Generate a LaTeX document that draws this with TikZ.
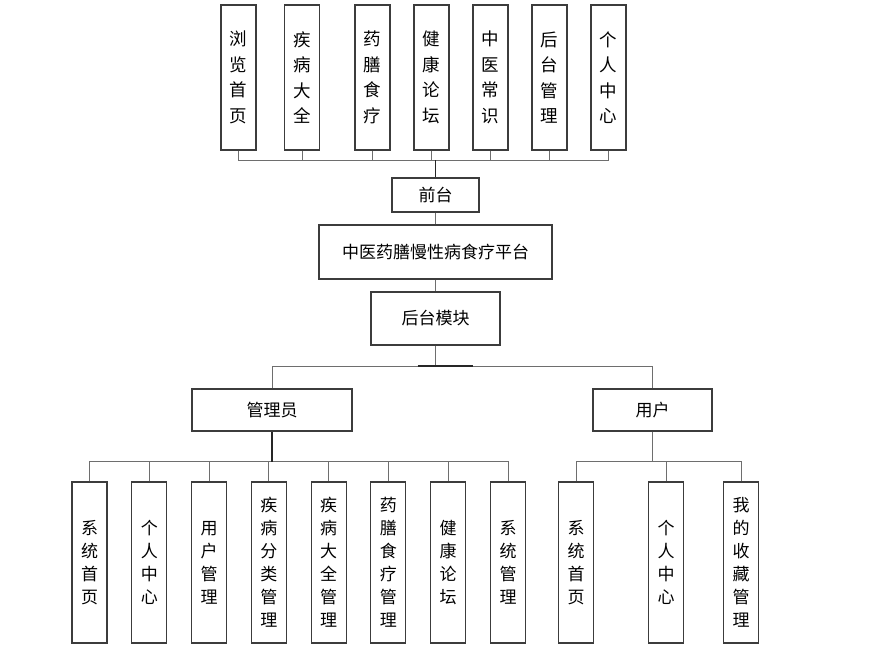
\documentclass[tikz,border=0pt]{standalone}
\usepackage{fontspec}
\usepackage{tikz}
\usetikzlibrary{positioning,calc}
\newfontfamily\cjk{Noto Sans CJK SC}
\definecolor{BoxLine}{RGB}{60,60,60}
\definecolor{LinkGray}{RGB}{110,110,110}
\tikzset{
  mod/.style={draw=BoxLine,fill=white,line width=1.1pt,inner sep=0pt,
    font=\cjk\fontsize{17}{20}\selectfont},
  leaf/.style={mod,minimum width=35pt,align=center},
  topleaf/.style={leaf,minimum height=145pt,font=\cjk\fontsize{17.5}{25.5}\selectfont},
  lowleaf/.style={leaf,minimum height=161pt,font=\cjk\fontsize{17}{23}\selectfont},
  link/.style={draw=LinkGray,line width=1pt},
  trunk/.style={draw=black!85,line width=1.6pt},
}

\begin{document}
\begin{tikzpicture}[x=1pt,y=-1pt]
\useasboundingbox (0,0) rectangle (880,653);
% front end
\node[topleaf] (t1) at (238.5,77.5) {浏\\览\\首\\页};
\node[topleaf] (t2) at (302,77.5) {疾\\病\\大\\全};
\node[topleaf] (t3) at (372.5,77.5) {药\\膳\\食\\疗};
\node[topleaf] (t4) at (431.5,77.5) {健\\康\\论\\坛};
\node[topleaf] (t5) at (490.5,77.5) {中\\医\\常\\识};
\node[topleaf] (t6) at (549.5,77.5) {后\\台\\管\\理};
\node[topleaf] (t7) at (608.5,77.5) {个\\人\\中\\心};
\node[mod,minimum width=87pt,minimum height=34pt] (qt) at (435.5,195) {前台};
\node[mod,minimum width=233pt,minimum height=54pt] (pt) at (435.5,252) {中医药膳慢性病食疗平台};
\node[mod,minimum width=129pt,minimum height=53pt] (ht) at (435.5,318.5) {后台模块};
\node[mod,minimum width=160pt,minimum height=42pt] (adm) at (272,410) {管理员};
\node[mod,minimum width=119pt,minimum height=42pt] (usr) at (652.5,410) {用户};
% admin leaves
\node[lowleaf] (a1) at (89.5,562.5) {系\\统\\首\\页};
\node[lowleaf] (a2) at (149.3,562.5) {个\\人\\中\\心};
\node[lowleaf] (a3) at (209,562.5) {用\\户\\管\\理};
\node[lowleaf] (a4) at (268.8,562.5) {疾\\病\\分\\类\\管\\理};
\node[lowleaf] (a5) at (328.7,562.5) {疾\\病\\大\\全\\管\\理};
\node[lowleaf] (a6) at (388.3,562.5) {药\\膳\\食\\疗\\管\\理};
\node[lowleaf] (a7) at (448.2,562.5) {健\\康\\论\\坛};
\node[lowleaf] (a8) at (508,562.5) {系\\统\\管\\理};
% user leaves
\node[lowleaf] (u1) at (576,562.5) {系\\统\\首\\页};
\node[lowleaf] (u2) at (666,562.5) {个\\人\\中\\心};
\node[lowleaf] (u3) at (741,562.5) {我\\的\\收\\藏\\管\\理};
% buses
\coordinate (topbus) at (435.5,160);
\coordinate (midbus) at (435.5,366);
\coordinate (admbus) at (272,461.5);
\coordinate (usrbus) at (652.5,461);
\foreach \t in {t1,t2,t3,t4,t5,t6,t7}
  \draw[link] (\t.south) |- (topbus);
\draw[trunk] (topbus) -- (qt.north);
\draw[link] (qt.south) -- (pt.north);
\draw[link] (pt.south) -- (ht.north);
\draw[link] (ht.south) -- (midbus);
\draw[link] (adm.north) |- (midbus);
\draw[link] (usr.north) |- (midbus);
\draw[trunk] ($(midbus)+(-18,0)$) -- ($(midbus)+(37,0)$);
\foreach \a in {a1,a2,a3,a4,a5,a6,a7,a8}
  \draw[link] (\a.north) |- (admbus);
\draw[trunk] (adm.south) -- (admbus);
\foreach \u in {u1,u2,u3}
  \draw[link] (\u.north) |- (usrbus);
\draw[link] (usr.south) -- (usrbus);
\end{tikzpicture}
\end{document}
